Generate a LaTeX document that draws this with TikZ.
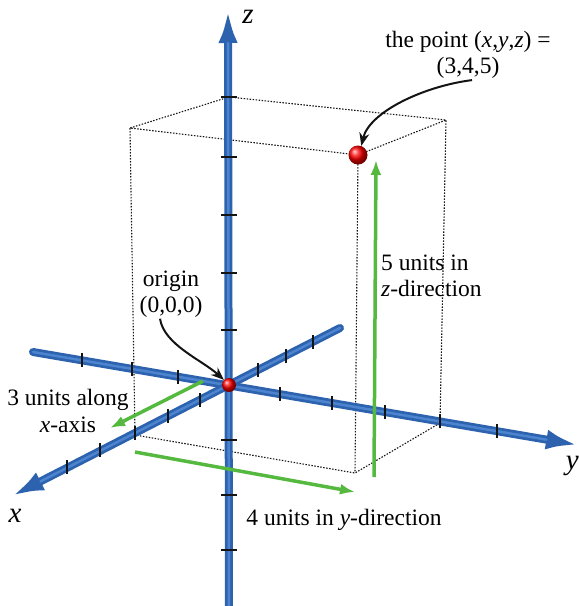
\documentclass[tikz,border=0pt]{standalone}
\usepackage{fontspec}
\setmainfont{Liberation Serif}
\usepackage{tikz}
\usetikzlibrary{arrows.meta}
\definecolor{axisblue}{HTML}{2D62AE}
\definecolor{axisshine}{HTML}{4C84CF}
\definecolor{unitgreen}{HTML}{55B940}
\definecolor{ink}{HTML}{141414}
\tikzset{>=Latex,
  axis/.style={draw=axisblue,fill=axisblue,line width=8pt,line cap=round,-{Latex[length=32pt,width=20pt]}},
  shine/.style={draw=axisshine,line width=2.5pt,line cap=round},
  tickmark/.style={draw=ink,line width=1.3pt},
  guide/.style={draw=ink,line width=1.1pt,dash pattern=on 1.5pt off 1.5pt},
  unitarrow/.style={draw=unitgreen,line width=3.5pt,-{Latex[length=15pt,width=11pt]}},
  pointer/.style={draw=ink,line width=2pt,-{Stealth[length=13pt,width=10pt]}},
  redball/.style={circle,shading=ball,ball color=red,inner sep=0pt},
  lab/.style={font=\fontsize{23.5}{26.5}\selectfont,align=center,inner sep=1pt},
  axlab/.style={font=\fontsize{29}{30}\selectfont\itshape,inner sep=0pt}}
\begin{document}
\begin{tikzpicture}[x=1pt,y=-1pt]
  \useasboundingbox (0,0) rectangle (579,606);
  \coordinate (O) at (229,385);
  \coordinate (zTop) at (228,8);
  \coordinate (zBot) at (229,610);
  \coordinate (yBack) at (33,352);
  \coordinate (yTip) at (578,445);
  \coordinate (xBack) at (340,328);
  \coordinate (xTip) at (12,496);
  \coordinate (A) at (229,97);
  \coordinate (B) at (130,128);
  \coordinate (C) at (358,155);
  \coordinate (D) at (446,120);
  \coordinate (Bb) at (135,435);
  \coordinate (Cb) at (355,473);
  \coordinate (Db) at (440,423);
  \draw[guide] (A)--(B)--(C)--(D)--cycle;
  \draw[guide] (B)--(Bb)--(Cb)--(Db)--(D);
  \draw[guide] (C)--(Cb);
  \draw[axis] (yBack)--(yTip);
  \draw[shine,shorten >=32pt] (yBack)--(yTip);
  \draw[axis] (xBack)--(xTip);
  \draw[shine,shorten >=32pt] (xBack)--(xTip);
  \draw[axis,-{Latex[length=35pt,width=19pt]}] (zBot)--(zTop);
  \draw[shine,shorten >=35pt] (zBot)--(zTop);
  \foreach \ty in {97,157,215,273,330,440,495,550}
    \draw[tickmark] (221,\ty)--(237,\ty);
  \foreach \tx/\ty in {82/360,132/369,178/377,280/394,332/403,385/412,440/421,497/431}
    \draw[tickmark] (\tx,\ty-7)--(\tx,\ty+7);
  \foreach \tx/\ty in {67/467,100/450,135/433,168/416,200/400,258/370,286/356,313/342}
    \draw[tickmark] (\tx,\ty-7)--(\tx,\ty+7);
  \coordinate (g1s) at (203,381);
  \coordinate (g1e) at (110,428);
  \coordinate (g2s) at (135,452);
  \coordinate (g2e) at (355,492);
  \coordinate (g3s) at (374,477);
  \coordinate (g3e) at (376,160);
  \draw[unitarrow] (g1s)--(g1e);
  \draw[unitarrow] (g2s)--(g2e);
  \draw[unitarrow] (g3s)--(g3e);
  \node[redball,minimum size=14pt] (o) at (O) {};
  \node[redball,minimum size=19pt] (p) at (C) {};
  \node[lab] (pointlab) at (468,55) {the point (\textit{x},\textit{y},\textit{z}) =\\(3,4,5)};
  \node[lab,align=left,anchor=west] (zdir) at (380,276) {5 units in\\\textit{z}-direction};
  \node[lab] (originlab) at (171,294) {origin\\(0,0,0)};
  \node[lab] (xdir) at (68,411) {3 units along\\\textit{x}-axis};
  \node[lab,anchor=base] (ydir) at (344,525) {4 units in \textit{y}-direction};
  \node[axlab] (zname) at (248,17) {z};
  \node[axlab,anchor=east] (yname) at (579,466) {y};
  \node[axlab] (xname) at (15,516) {x};
  \draw[pointer] ([xshift=-11pt]originlab.south) .. controls +(4,26) and +(-22,-20) .. (o.north west);
  \draw[pointer] ([xshift=4pt]pointlab.south) .. controls +(-48,6) and +(8,-34) .. (p.70);
\end{tikzpicture}
\end{document}
